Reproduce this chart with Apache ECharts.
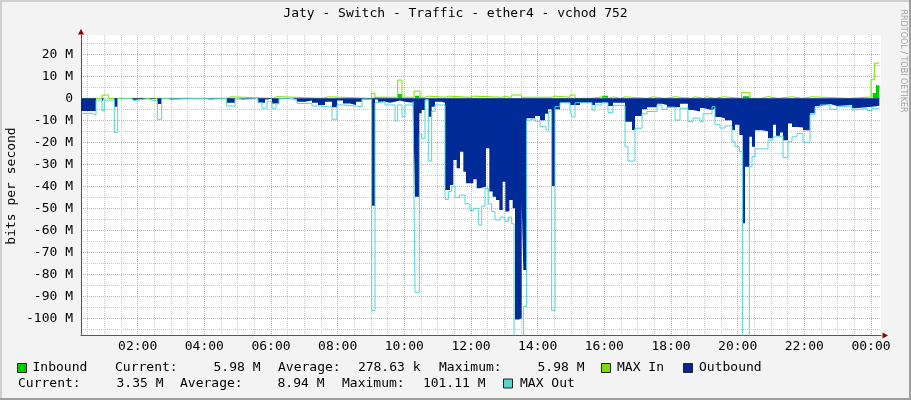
<!DOCTYPE html>
<html><head><meta charset="utf-8">
<script src="https://cdn.jsdelivr.net/npm/echarts@6/dist/echarts.min.js"></script>
<style>html,body{margin:0;padding:0;background:#F3F3F3}#c{width:911px;height:400px}</style>
</head><body><div id="c"></div>
<script>
// time in hours since midnight (24+ = next day), values in Mbit/s (outbound negative)
const inbound = [[0.30,0],[9.02,0.5],[9.12,0],[9.80,2.0],[9.93,0],[10.32,1.2],[10.45,0],[11.22,0.3],[11.32,0],
  [15.93,1.2],[16.11,0],[20.15,1.0],[20.35,0],[24.05,2.4],[24.15,5.98],[24.25,5.98]];

const maxIn = [[0.30,0],[0.93,1.5],[1.13,0],[4.67,0.7],[4.80,0],[6.07,0.8],[6.17,0],[7.56,0.7],[7.71,0],
  [9.02,2.3],[9.12,0.5],[9.80,8.3],[9.93,0.5],[10.29,3.3],[10.47,0.5],[10.62,1.0],[10.72,0.5],[11.22,1.0],
  [11.32,0.5],[11.97,1.0],[12.07,0.5],[12.92,0.8],[13.02,0.5],[13.22,1.5],[13.52,0.5],[14.42,1.0],[14.52,0.5],
  [14.97,1.5],[15.12,0],[15.62,0.7],[15.92,0],[16.12,0.7],[16.27,0],[16.47,0.7],[16.62,0],[17.27,0.7],[17.47,0],
  [17.82,0.7],[18.12,0],[18.62,0.7],[18.72,0],[18.97,0.7],[19.07,0],[19.32,0.7],[19.57,0],[20.12,2.7],[20.37,0],
  [20.72,0.8],[20.92,0],[21.22,0.7],[21.62,0],[21.97,0.7],[22.22,0],[23.32,0.6],[24.00,8.5],[24.10,16],[24.25,16]];

const outbound = [[0.30,-5.8],[0.75,0],[0.93,-1.5],[0.99,0],[1.30,-3.8],[1.40,0],[1.82,-0.7],[1.89,0],[2.31,-0.3],
  [2.43,0],[2.59,-2.6],[2.72,0],[2.88,-0.5],[3.00,0],[4.02,-0.5],[4.17,0],[4.67,-2.0],[4.92,0],[5.01,-0.5],[5.13,0],
  [5.61,-2.0],[5.82,-0.5],[5.91,0],[6.03,-2.3],[6.24,-0.3],[6.36,0],[6.63,-0.5],[6.78,-1.5],[7.02,-1.0],[7.23,-2.0],
  [7.41,-3.0],[7.62,-1.5],[7.83,-4.0],[7.98,-1.0],[8.16,-2.3],[8.37,-3.0],[8.55,-1.5],[8.73,-0.5],[9.02,-48.8],
  [9.12,-0.5],[9.21,-1.5],[9.42,-2.0],[9.57,-1.5],[9.72,-1.0],[9.87,-1.5],[10.02,-2.0],[10.26,-1.0],[10.32,-44.7],
  [10.45,-6.8],[10.52,-5.3],[10.62,-0.5],[10.72,-8.4],[10.82,-3.8],[10.92,-1.5],[11.13,-2.0],[11.22,-41.7],
  [11.37,-39.4],[11.47,-28],[11.57,-31.8],[11.67,-24.3],[11.77,-33.4],[11.85,-38.6],[12.07,-36.8],[12.17,-40.9],
  [12.27,-40.2],[12.45,-22.7],[12.55,-42.4],[12.65,-44.7],[12.75,-46.2],[12.85,-50.8],[12.95,-37.9],[13.03,-51.5],
  [13.15,-46.2],[13.25,-50],[13.32,-100.5],[13.44,-100],[13.52,-47],[13.57,-78],[13.67,-9],[13.92,-8],[14.07,-10],
  [14.22,-7],[14.31,-5],[14.42,-39.9],[14.52,-5],[14.67,-2],[14.97,-3],[15.27,-2],[15.63,-3],[15.72,-2],[16.11,-3.5],
  [16.26,-2],[16.62,-10.6],[16.83,-14.4],[16.92,-8],[17.13,-5],[17.28,-4],[17.58,-2.5],[17.73,-3],[17.88,-4],
  [18.27,-2.5],[18.51,-5.3],[18.66,-6],[18.87,-4.4],[18.96,-5.3],[19.23,-4.5],[19.32,-8.5],[19.47,-9],[19.62,-10],
  [19.83,-14.4],[19.92,-12],[20.05,-16.7],[20.15,-56.8],[20.22,-31.1],[20.35,-17.5],[20.43,-22],[20.52,-14.5],
  [20.73,-15],[20.91,-18.2],[21.06,-12],[21.15,-17],[21.27,-15.5],[21.36,-19],[21.51,-11.4],[21.63,-13],
  [21.78,-13.2],[21.96,-14.5],[22.17,-6.8],[22.32,-3.5],[22.47,-2.6],[22.77,-3.5],[22.98,-3],[23.43,-4.5],
  [23.52,-3.8],[24.03,-3.35],[24.25,-3.35]];

const maxOut = [[0.30,-6.8],[0.63,-7.7],[0.75,-0.8],[0.93,-5.6],[1.00,-0.8],[1.30,-15.5],[1.40,-0.2],[1.82,-1.0],
  [1.89,-0.2],[2.31,-0.8],[2.43,-1.3],[2.59,-9.5],[2.72,-0.2],[4.67,-3.5],[4.92,-0.3],[5.61,-2.0],[5.73,-4.5],
  [5.88,-1.5],[6.03,-4.5],[6.15,-2.5],[6.24,-0.2],[6.63,-1.0],[6.78,-2.3],[7.23,-3.5],[7.47,-4.0],[7.83,-9.5],
  [7.98,-3.0],[8.16,-3.5],[8.55,-3.8],[8.73,-0.3],[9.02,-96.5],[9.12,-2.0],[9.21,-1.5],[9.42,-3],[9.72,-10.3],
  [9.80,-3],[9.93,-8.4],[10.02,-3],[10.26,-1.5],[10.32,-88.2],[10.45,-16.2],[10.52,-18.2],[10.62,-0.8],
  [10.72,-28.5],[10.82,-6],[10.92,-3],[11.22,-45.9],[11.32,-42.4],[11.42,-40.2],[11.52,-45],[11.65,-44],
  [11.82,-48],[11.97,-51],[12.07,-50],[12.22,-57.6],[12.32,-49],[12.42,-41],[12.52,-48],[12.62,-51.5],
  [12.72,-55.3],[12.87,-54],[13.02,-56],[13.12,-54],[13.22,-57],[13.29,-110],[13.57,-94.7],[13.67,-9.9],
  [13.77,-9.1],[13.92,-10.5],[14.07,-12.9],[14.25,-14.4],[14.33,-6],[14.42,-96.5],[14.52,-3.8],[14.67,-2],
  [14.97,-5.3],[15.03,-8.4],[15.12,-2],[15.63,-5.3],[15.72,-3],[15.93,-2],[16.11,-6.4],[16.26,-3.2],[16.62,-22],
  [16.71,-28.5],[16.92,-13.6],[17.13,-7],[17.28,-6],[17.58,-3],[17.73,-5],[17.88,-4],[18.12,-9.9],[18.27,-4.5],
  [18.51,-10.6],[18.66,-9],[18.87,-10.6],[18.96,-7],[19.23,-3.8],[19.32,-12],[19.47,-13.5],[19.62,-12.5],
  [19.83,-19.7],[19.92,-22],[20.05,-24.3],[20.15,-110],[20.35,-31.1],[20.43,-26.5],[20.52,-23],[20.91,-19],
  [21.06,-17.5],[21.27,-17],[21.36,-27],[21.51,-19.7],[21.63,-17.5],[21.78,-16],[21.96,-20],[22.17,-7.5],
  [22.32,-4],[22.47,-3],[22.77,-5],[22.98,-3.8],[23.43,-5.3],[23.52,-4.5],[23.88,-5.5],[24.03,-4.5],[24.25,-4.5]];

const hourTicks = [2,4,6,8,10,12,14,16,18,20,22,24];
const halfHourTicks = [0.5,1,1.5,2.5,3,3.5,4.5,5,5.5,6.5,7,7.5,8.5,9,9.5,10.5,11,11.5,12.5,13,13.5,14.5,15,15.5,
  16.5,17,17.5,18.5,19,19.5,20.5,21,21.5,22.5,23,23.5];
const valueTicks = [-100,-90,-80,-70,-60,-50,-40,-30,-20,-10,0,10,20];
const minorValueTicks = [-105,-95,-85,-75,-65,-55,-45,-35,-25,-15,-5,5,15,25];

const FONT = "'DejaVu Sans Mono', monospace";
const C_IN = '#00CC00', C_MAXIN = '#7CE000', C_OUT = '#002A97', C_MAXOUT = '#55D5D0';
const GRID_MINOR = '#C8C8C8', GRID_MAJOR = '#F0A0A0';

function txt(x, y, s, align) {
  const a = align || 'left';
  return {type:'text', x:x, y:y, silent:true,
    style:{text:s, font:'13px '+FONT, fill:'#000', textAlign:a, align:a,
           textVerticalAlign:'middle', verticalAlign:'middle'}};
}
function box(x, y, color) {
  return {type:'rect', silent:true, shape:{x:x, y:y, width:9, height:9},
    style:{fill:color, stroke:'#222', lineWidth:1}};
}

const graphics = [
  {type:'rect', silent:true, shape:{x:0,y:0,width:911,height:2}, style:{fill:'#CFCFCF'}},
  {type:'rect', silent:true, shape:{x:0,y:0,width:2,height:400}, style:{fill:'#CFCFCF'}},
  {type:'rect', silent:true, shape:{x:0,y:398,width:911,height:2}, style:{fill:'#9E9E9E'}},
  {type:'rect', silent:true, shape:{x:909,y:0,width:2,height:400}, style:{fill:'#9E9E9E'}},
  txt(455.5, 14, 'Jaty - Switch - Traffic - ether4 - vchod 752', 'center'),
  {type:'text', x:12, y:186, rotation:Math.PI/2, silent:true,
    style:{text:'bits per second', font:'13px '+FONT, fill:'#000', textAlign:'center', align:'center',
           textVerticalAlign:'middle', verticalAlign:'middle'}},
  {type:'text', x:903.5, y:61, rotation:-Math.PI/2, silent:true,
    style:{text:'RRDTOOL / TOBI OETIKER', font:'8px DejaVu Sans', fill:'#A0A0A0', textAlign:'center', align:'center',
           textVerticalAlign:'middle', verticalAlign:'middle'}},
  {type:'polygon', silent:true, shape:{points:[[78,34.5],[84,34.5],[81,29]]}, style:{fill:'#8B0000'}},
  {type:'polygon', silent:true, shape:{points:[[882.5,332.5],[882.5,338.5],[888,335.5]]}, style:{fill:'#8B0000'}},
  // legend row 1
  box(17.5, 363.5, C_IN), txt(32.5, 368, 'Inbound'), txt(115, 368, 'Current:'), txt(260.5, 368, '5.98 M', 'right'),
  txt(278, 368, 'Average:'), txt(420.5, 368, '278.63 k', 'right'), txt(439, 368, 'Maximum:'), txt(584.5, 368, '5.98 M', 'right'),
  box(601.5, 363.5, C_MAXIN), txt(617, 368, 'MAX In'),
  box(683.5, 363.5, C_OUT), txt(699, 368, 'Outbound'),
  // legend row 2
  txt(18, 383.5, 'Current:'), txt(163.5, 383.5, '3.35 M', 'right'), txt(180, 383.5, 'Average:'), txt(324.5, 383.5, '8.94 M', 'right'),
  txt(342, 383.5, 'Maximum:'), txt(485.5, 383.5, '101.11 M', 'right'), box(503.5, 379, C_MAXOUT), txt(520, 383.5, 'MAX Out')
];

const chart = echarts.init(document.getElementById('c'), null, {renderer:'canvas'});
chart.setOption({
  animation:false,
  backgroundColor:'#F3F3F3',
  grid:{left:81, top:35, width:800, height:300, show:true, backgroundColor:'#FFFFFF', borderWidth:0, containLabel:false},
  xAxis:[
    {type:'value', min:0.3, max:24.3, position:'bottom',
     axisLine:{show:true, onZero:false, lineStyle:{color:'#555', width:1}},
     axisTick:{show:false, customValues:hourTicks},
     axisLabel:{show:true, customValues:hourTicks, margin:5, color:'#000', fontFamily:FONT, fontSize:13,
       formatter:function(v){ return String(Math.round(v)%24).padStart(2,'0')+':00'; }},
     splitLine:{show:true, lineStyle:{color:GRID_MAJOR, width:1, type:[1,1]}}},
    {type:'value', min:0.3, max:24.3, position:'bottom',
     axisLine:{show:false}, axisTick:{show:false, customValues:halfHourTicks}, axisLabel:{show:false},
     splitLine:{show:true, lineStyle:{color:GRID_MINOR, width:1, type:[1,1]}}}
  ],
  yAxis:[
    {type:'value', min:-107.6, max:28.8, position:'left',
     axisLine:{show:true, onZero:false, lineStyle:{color:'#555', width:1}},
     axisTick:{show:false, customValues:valueTicks},
     axisLabel:{show:true, customValues:valueTicks, margin:8, color:'#000', fontFamily:FONT, fontSize:13,
       formatter:function(v){ return v === 0 ? '0' : v + ' M'; }},
     splitLine:{show:true, lineStyle:{color:GRID_MAJOR, width:1, type:[1,1]}}},
    {type:'value', min:-107.6, max:28.8, position:'left',
     axisLine:{show:false}, axisTick:{show:false, customValues:minorValueTicks}, axisLabel:{show:false},
     splitLine:{show:true, lineStyle:{color:GRID_MINOR, width:1, type:[1,1]}}}
  ],
  series:[
    {name:'Inbound', type:'line', step:'end', data:inbound, symbol:'none', silent:true, z:3,
     itemStyle:{color:C_IN}, lineStyle:{width:0, opacity:0, color:C_IN}, areaStyle:{color:C_IN, opacity:1}},
    {name:'MAX In', type:'line', step:'end', data:maxIn, symbol:'none', silent:true, z:4,
     itemStyle:{color:C_MAXIN}, lineStyle:{width:1, color:C_MAXIN}},
    {name:'Outbound', type:'line', step:'end', data:outbound, symbol:'none', silent:true, z:5,
     itemStyle:{color:C_OUT}, lineStyle:{width:0, opacity:0, color:C_OUT}, areaStyle:{color:C_OUT, opacity:1}},
    {name:'MAX Out', type:'line', step:'end', data:maxOut, symbol:'none', silent:true, z:6,
     itemStyle:{color:C_MAXOUT}, lineStyle:{width:1, color:C_MAXOUT}}
  ],
  graphic:graphics
});
</script></body></html>
